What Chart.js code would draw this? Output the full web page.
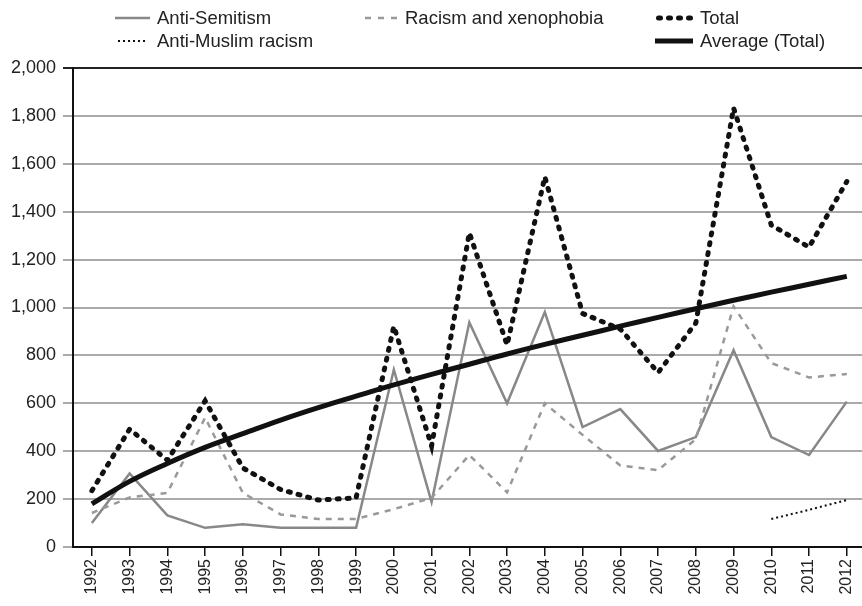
<!DOCTYPE html>
<html>
<head>
<meta charset="utf-8">
<script src="https://cdn.jsdelivr.net/npm/chart.js@4"></script>
<style>
  html, body { margin: 0; padding: 0; background: #fff; overflow: hidden; }
  #wrap { width: 869px; height: 606px; }
</style>
</head>
<body>
<div id="wrap"><canvas id="canvas"></canvas></div>
<script>
var years = ['1992','1993','1994','1995','1996','1997','1998','1999','2000','2001','2002',
             '2003','2004','2005','2006','2007','2008','2009','2010','2011','2012'];
var antiSemitism = [100, 307, 132, 80, 95, 80, 80, 80, 740, 188, 938, 600, 981, 501, 576, 401, 459, 822, 459, 384, 607];
var racism = [142, 207, 226, 540, 226, 136, 117, 117, 158, 205, 384, 228, 600, 468, 340, 321, 450, 1005, 768, 708, 722];
var total = [235, 492, 362, 610, 330, 240, 196, 205, 922, 422, 1312, 843, 1546, 975, 910, 728, 935, 1833, 1344, 1252, 1526];
var antiMuslim = [null, null, null, null, null, null, null, null, null, null, null,
                  null, null, null, null, null, null, null, 117, 155, 196];
var averageTotal = [180, 274, 349, 416, 473, 530, 582, 630, 677, 721, 763, 806, 846, 884, 922, 959, 995, 1030, 1064, 1097, 1130];
var yTicks = [0, 200, 400, 600, 800, 1000, 1200, 1400, 1600, 1800, 2000];

var FONT = '"Liberation Sans", Arial, sans-serif';

// legend drawn in two rows like the original
var legendSpots = [
  { ds: 0, x: 115, w: 35, y: 18 },
  { ds: 1, x: 365, w: 32, y: 18 },
  { ds: 2, x: 656, w: 38, y: 18 },
  { ds: 3, x: 118, w: 30, y: 41 },
  { ds: 4, x: 655, w: 38, y: 41 }
];

var legendPlugin = {
  id: 'gridLegend',
  afterDraw: function(chart) {
    var ctx = chart.ctx;
    ctx.save();
    legendSpots.forEach(function(s) {
      var d = chart.data.datasets[s.ds];
      var cap = d.borderCapStyle || 'butt';
      var pad = cap === 'round' ? d.borderWidth / 2 : 0;
      ctx.beginPath();
      ctx.strokeStyle = d.borderColor;
      ctx.lineWidth = d.borderWidth;
      ctx.lineCap = cap;
      ctx.setLineDash(d.legendDash || d.borderDash || []);
      ctx.moveTo(s.x + pad, s.y);
      ctx.lineTo(s.x + s.w, s.y);
      ctx.stroke();
      ctx.setLineDash([]);
      ctx.fillStyle = '#222';
      ctx.font = '18.5px ' + FONT;
      ctx.textBaseline = 'middle';
      var textX = s.ds === 0 || s.ds === 3 ? 157 : (s.ds === 1 ? 405 : 700);
      ctx.fillText(d.label, textX, s.y + 1);
    });
    ctx.restore();
  }
};

window.onload = function() {
  var ctx = document.getElementById('canvas').getContext('2d');
  new Chart(ctx, {
    type: 'line',
    data: {
      labels: years,
      datasets: [
        { label: 'Anti-Semitism', data: antiSemitism, borderColor: '#888', borderWidth: 2.5, order: 4 },
        { label: 'Racism and xenophobia', data: racism, borderColor: '#999', borderWidth: 2.5, borderDash: [6, 6], legendDash: [6, 7], order: 3 },
        { label: 'Total', data: total, borderColor: '#111', borderWidth: 5, borderDash: [2, 8], borderCapStyle: 'round', order: 1 },
        { label: 'Anti-Muslim racism', data: antiMuslim, borderColor: '#111', borderWidth: 2, borderDash: [2, 3], order: 2 },
        { label: 'Average (Total)', data: averageTotal, borderColor: '#111', borderWidth: 5, tension: 0.4, order: 0 }
      ]
    },
    options: {
      responsive: true,
      maintainAspectRatio: false,
      animation: false,
      elements: { point: { radius: 0 }, line: { tension: 0 } },
      layout: { padding: { top: 68, left: 0, right: 0, bottom: 0 } },
      plugins: { legend: { display: false }, tooltip: { enabled: false } },
      scales: {
        x: {
          offset: true,
          grid: { offset: false, drawOnChartArea: false, drawTicks: true, tickLength: 9, color: '#111', lineWidth: 1.5 },
          border: { color: '#111', width: 2 },
          ticks: {
            minRotation: 90, maxRotation: 90, autoSkip: false, padding: 3,
            color: '#222', font: { family: FONT, size: 16 }
          },
          afterFit: function(scale) { scale.height = 59; }
        },
        y: {
          min: 0, max: 2000,
          afterBuildTicks: function(scale) {
            scale.ticks = yTicks.map(function(v) { return { value: v }; });
          },
          grid: {
            color: function(c) { return c.tick && c.tick.value === 2000 ? '#222' : '#aaa'; },
            lineWidth: 2, drawTicks: true, tickLength: 10
          },
          border: { color: '#111', width: 2 },
          ticks: {
            padding: 7, color: '#222',
            font: { family: FONT, size: 18 },
            callback: function(v) { return v.toLocaleString('en-US'); }
          },
          afterFit: function(scale) { scale.width = 73; }
        }
      }
    },
    plugins: [legendPlugin]
  });
};
</script>
</body>
</html>
